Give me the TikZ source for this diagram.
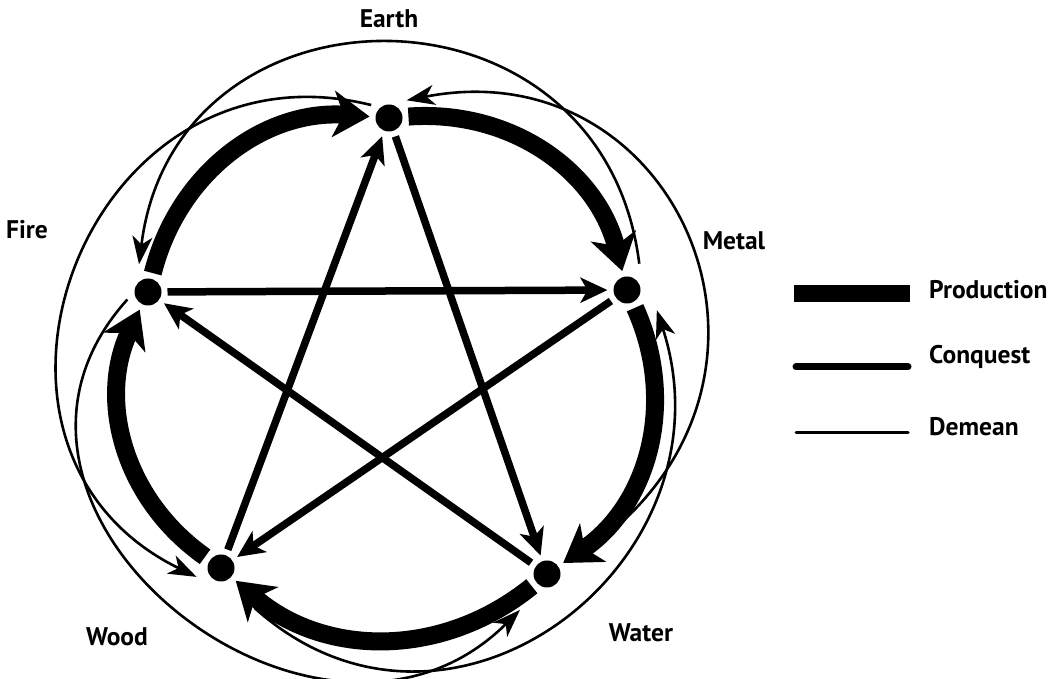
\documentclass[tikz,border=0pt]{standalone}
\usepackage{fontspec}
\setmainfont{PT Sans}
\usetikzlibrary{arrows.meta,calc}

\begin{document}
\begin{tikzpicture}[x=1pt, y=1pt,
        elem/.style={circle, fill=black, inner sep=0pt, minimum size=27pt, outer sep=6pt},
        elemname/.style={font=\bfseries\fontsize{25.5}{30}\selectfont, inner sep=0pt},
        production/.style={line width=18pt, -{Stealth[length=36pt, width=46pt, inset=10pt]}},
        conquest/.style={line width=7.5pt, -{Stealth[length=27pt, width=25pt, inset=7pt]}},
        demean/.style={line width=2.6pt, -{Stealth[length=28pt, width=20pt, inset=8pt]}}]
        \useasboundingbox (0,0) rectangle (1060,679);

        % the five elements
        \node[elem] (earth) at (389,561) {};
        \node[elem] (fire) at (148,387) {};
        \node[elem] (metal) at (627,389) {};
        \node[elem] (wood) at (221,111) {};
        \node[elem] (water) at (547,105) {};

        \node[elemname] (earthname) at (389,660) {Earth};
        \node[elemname] (firename) at (27,449) {Fire};
        \node[elemname] (metalname) at (734,438) {Metal};
        \node[elemname] (woodname) at (117,42) {Wood};
        \node[elemname] (watername) at (641,46) {Water};

        % production cycle
        \draw[production] (wood) to[bend left=40] (fire);
        \draw[production] (fire) to[bend left=40] (earth);
        \draw[production] (earth) to[bend left=40] (metal);
        \draw[production] (metal) to[bend left=40] (water);
        \draw[production] (water) to[bend left=40] (wood);

        % conquest star
        \draw[conquest] (fire) -- (metal);
        \draw[conquest] (metal) -- (wood);
        \draw[conquest] (wood) -- (earth);
        \draw[conquest] (earth) -- (water);
        \draw[conquest] (water) -- (fire);

        % demean arcs
        \draw[demean] ($(metal)+(65:29)$) to[out=97, in=83, looseness=1.52] ($(fire)+(108:29)$);
        \draw[demean] ($(water)+(33:71)$) to[out=39, in=11, looseness=1.45] ($(earth)+(45:25)$);
        \draw[demean] ($(earth)+(144:22)$) to[out=166, in=154, looseness=1.5] ($(wood)+(200:26)$);
        \draw[demean] ($(fire)+(200:22)$) to[out=228, in=225, looseness=1.45] ($(water)+(233:45)$);
        \draw[demean] ($(wood)+(-50:52)$) to[out=-42, in=-72, looseness=1.35] ($(metal)+(-34:36)$);

        % legend
        \node[elemname, anchor=west] (prodname) at (929,389) {Production};
        \node[elemname, anchor=west] (conqname) at (929,322) {Conquest};
        \node[elemname, anchor=west] (demname) at (929,252) {Demean};
        \draw[line width=17pt] (794,385) -- (910,385);
        \draw[line width=7pt, line cap=round] (796,312) -- (908,312);
        \draw[line width=3pt, line cap=round] (796,246) -- (908,246);
\end{tikzpicture}
\end{document}
